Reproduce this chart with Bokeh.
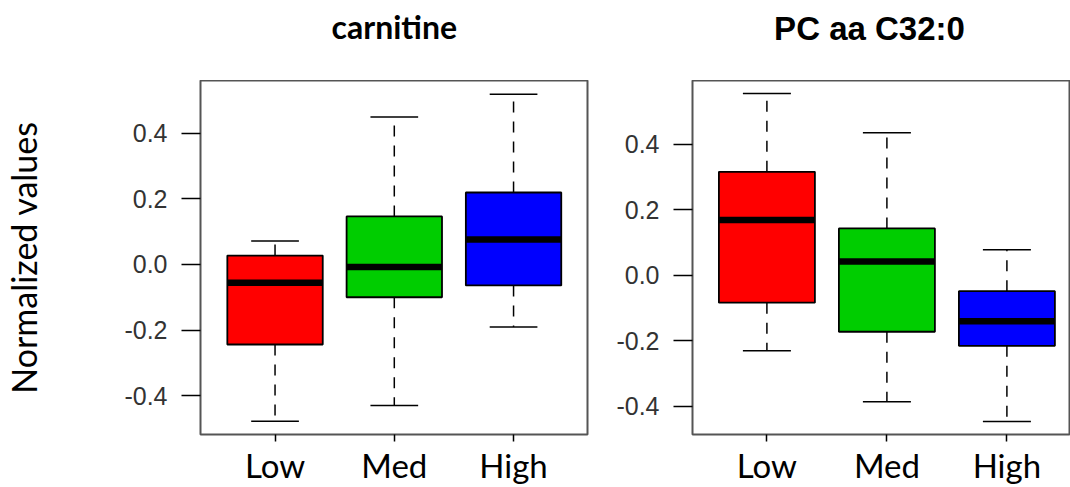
from bokeh.plotting import figure
from bokeh.layouts import row, column
from bokeh.models import Range1d, FixedTicker, PrintfTickFormatter, ColumnDataSource
from bokeh.core.properties import value
from bokeh.embed import file_html
from bokeh.resources import INLINE

groups = ["Low", "Med", "High"]
positions = [1, 2, 3]
colors = ["#FF0000", "#00CD00", "#0000FF"]
y_ticks = [-0.4, -0.2, 0.0, 0.2, 0.4]

carnitine_lower = [-0.478, -0.430, -0.191]
carnitine_q1 = [-0.244, -0.100, -0.064]
carnitine_median = [-0.056, -0.008, 0.076]
carnitine_q3 = [0.027, 0.146, 0.219]
carnitine_upper = [0.071, 0.449, 0.518]

pc_lower = [-0.231, -0.387, -0.447]
pc_q1 = [-0.084, -0.173, -0.216]
pc_median = [0.169, 0.042, -0.141]
pc_q3 = [0.316, 0.143, -0.049]
pc_upper = [0.555, 0.435, 0.078]

H = 487
TOP = 80
BOTTOM = 53


def title_fig(title, font, size, tx, baseline_from_top, xr, width, bl, br):
    t = figure(width=width, height=TOP, x_range=xr, y_range=Range1d(0, TOP),
               output_backend="svg", toolbar_location=None,
               min_border_left=bl, min_border_right=br, min_border_top=0,
               min_border_bottom=0, x_axis_location=None, y_axis_location=None)
    t.outline_line_color = None
    t.xgrid.visible = False
    t.ygrid.visible = False
    t.background_fill_color = "white"
    t.border_fill_color = "white"
    t.text(x=[tx], y=[TOP - baseline_from_top], text=[title], text_font=value(font),
           text_font_size=size, text_font_style="bold", text_color="black",
           text_align="center", text_baseline="alphabetic")
    return t


def boxpanel(lower, q1, med, q3, upper, xr, yr, width, bl, br, ylabel=None):
    p = figure(width=width, height=H - TOP, x_range=xr, y_range=Range1d(*yr),
               output_backend="svg", toolbar_location=None,
               min_border_left=bl, min_border_right=br, min_border_top=0,
               min_border_bottom=BOTTOM)
    p.background_fill_color = "white"
    p.border_fill_color = "white"
    p.outline_line_color = "#555555"
    p.outline_line_width = 2
    p.xgrid.visible = False
    p.ygrid.visible = False

    src = ColumnDataSource(dict(x=positions, lower=lower, q1=q1, med=med, q3=q3,
                                upper=upper, color=colors,
                                xl=[v - 0.2 for v in positions],
                                xr=[v + 0.2 for v in positions],
                                ml=[v - 0.4 for v in positions],
                                mr=[v + 0.4 for v in positions]))
    # whiskers (dashed)
    p.segment(x0="x", y0="q3", x1="x", y1="upper", source=src, line_color="black",
              line_width=1.5, line_dash="11 9")
    p.segment(x0="x", y0="q1", x1="x", y1="lower", source=src, line_color="black",
              line_width=1.5, line_dash="11 9")
    # caps
    p.segment(x0="xl", y0="upper", x1="xr", y1="upper", source=src, line_color="black",
              line_width=1.5)
    p.segment(x0="xl", y0="lower", x1="xr", y1="lower", source=src, line_color="black",
              line_width=1.5)
    # boxes
    p.vbar(x="x", width=0.8, bottom="q1", top="q3", source=src, fill_color="color",
           line_color="black", line_width=1.8)
    # medians
    p.segment(x0="ml", y0="med", x1="mr", y1="med", source=src, line_color="black",
              line_width=6.5)

    xa = p.xaxis[0]
    xa.ticker = FixedTicker(ticks=positions)
    xa.major_label_overrides = {pos: g for pos, g in zip(positions, groups)}
    xa.axis_line_color = None
    xa.major_tick_out = 7
    xa.major_tick_in = 0
    xa.major_tick_line_width = 1.5
    xa.minor_tick_line_color = None
    xa.major_label_text_font = "Lato"
    xa.major_label_text_font_size = "33px"
    xa.major_label_text_color = "black"
    xa.major_label_standoff = 3

    ya = p.yaxis[0]
    ya.ticker = FixedTicker(ticks=y_ticks)
    ya.formatter = PrintfTickFormatter(format="%.1f")
    ya.axis_line_color = None
    ya.major_tick_out = 19
    ya.major_tick_in = 0
    ya.major_tick_line_width = 1.5
    ya.minor_tick_line_color = None
    ya.major_label_text_font = "Liberation Sans"
    ya.major_label_text_font_size = "25px"
    ya.major_label_text_color = "#333333"
    ya.major_label_standoff = 14
    if ylabel:
        ya.axis_label = ylabel
        ya.axis_label_text_font = "Lato"
        ya.axis_label_text_font_size = "34px"
        ya.axis_label_text_font_style = "normal"
        ya.axis_label_text_color = "black"
        ya.axis_label_standoff = 77
    return p


xr_left = Range1d(0.375, 3.62)
xr_right = Range1d(0.38, 3.53)

left = boxpanel(carnitine_lower, carnitine_q1, carnitine_median, carnitine_q3,
                carnitine_upper, xr_left, (-0.518, 0.560), 600, 199, 13,
                ylabel="Normalized values")
right = boxpanel(pc_lower, pc_q1, pc_median, pc_q3, pc_upper, xr_right,
                 (-0.487, 0.595), 470, 92, 0)

left_t = title_fig("carnitine", "Lato", "32px", 2.0, 26, xr_left, 600, 199, 13)
right_t = title_fig("PC aa C32:0", "Liberation Sans", "33px", 1.855, 28, xr_right,
                    470, 92, 0)

layout = row(column(left_t, left, spacing=0), column(right_t, right, spacing=0),
             spacing=0)
open("out.html", "w").write(file_html(layout, INLINE))
